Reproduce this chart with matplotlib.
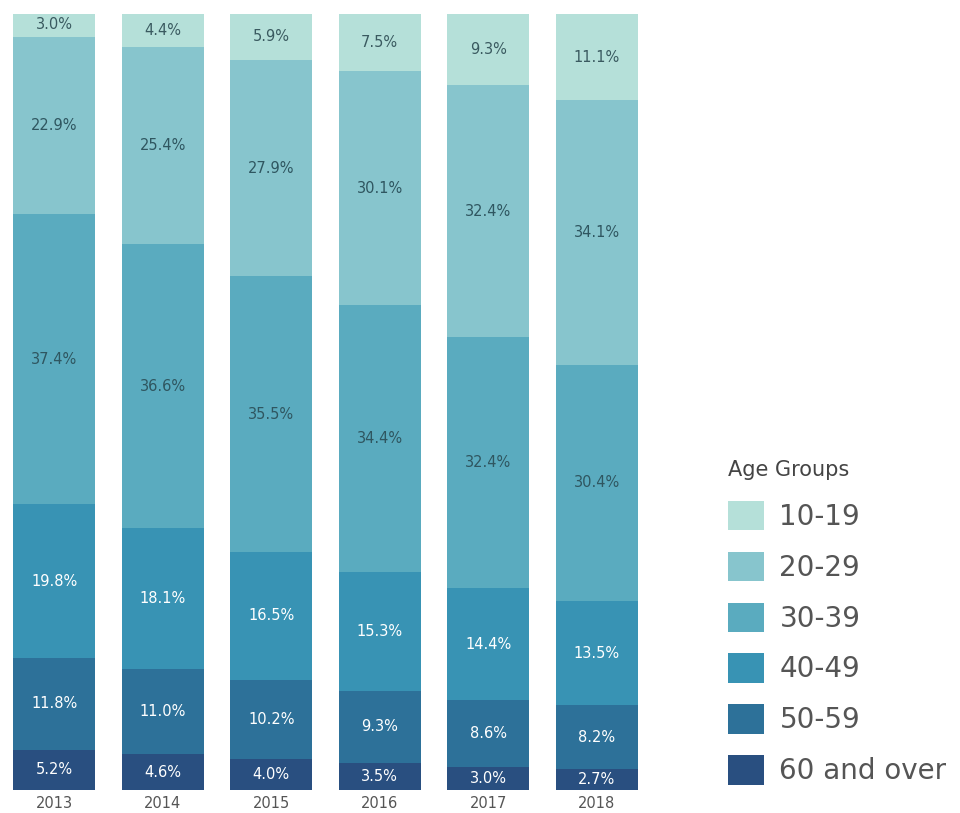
import matplotlib.pyplot as plt
import numpy as np
from matplotlib.patches import Patch

years = ['2013', '2014', '2015', '2016', '2017', '2018']
groups = ['10-19', '20-29', '30-39', '40-49', '50-59', '60 and over']

age_10_19 = [3.0, 4.4, 5.9, 7.5, 9.3, 11.1]
age_20_29 = [22.9, 25.4, 27.9, 30.1, 32.4, 34.1]
age_30_39 = [37.4, 36.6, 35.5, 34.4, 32.4, 30.4]
age_40_49 = [19.8, 18.1, 16.5, 15.3, 14.4, 13.5]
age_50_59 = [11.8, 11.0, 10.2, 9.3, 8.6, 8.2]
age_60_up = [5.2, 4.6, 4.0, 3.5, 3.0, 2.7]

series = [age_10_19, age_20_29, age_30_39, age_40_49, age_50_59, age_60_up]
colors = ['#b5e0d9', '#87c5cd', '#5aabbf', '#3893b4', '#2d7199', '#294f80']
text_colors = ['#3a5a60', '#2f5660', '#2f5660', 'white', 'white', 'white']

fig = plt.figure(figsize=(9.6, 8.13), dpi=100)
ax = fig.add_axes([0.0, 23 / 813, 651 / 960, 776 / 813])

x = np.arange(len(years))
bottom = np.zeros(len(years))
# stack from the oldest group at the bottom up to the youngest
for vals, col, tcol in reversed(list(zip(series, colors, text_colors))):
    vals = np.array(vals)
    ax.bar(x, vals, width=0.76, bottom=bottom, color=col, linewidth=0)
    for xi, b, v in zip(x, bottom, vals):
        ax.text(xi, b + v / 2, f'{v:.1f}%', ha='center', va='center',
                fontsize=10.5, color=tcol)
    bottom += vals

ax.set_xlim(-0.5, len(years) - 0.5)
ax.set_ylim(0, 100)
ax.set_xticks(x)
ax.set_xticklabels(years, fontsize=10.5, color='#555555')
ax.tick_params(axis='x', length=0, pad=4)
ax.set_yticks([])
for s in ax.spines.values():
    s.set_visible(False)

handles = [Patch(facecolor=c, edgecolor='none') for c in colors]
leg = fig.legend(handles, groups, loc='upper left',
                 bbox_to_anchor=(728 / 960, 1 - 460 / 813),
                 frameon=False, fontsize=20, title='Age Groups',
                 title_fontsize=15, alignment='left',
                 handlelength=1.3, handleheight=1.25, labelspacing=0.75,
                 handletextpad=0.55, borderpad=0, borderaxespad=0)
for t in leg.get_texts():
    t.set_color('#555555')
leg.get_title().set_color('#444444')

plt.savefig('out.png', dpi=100)
